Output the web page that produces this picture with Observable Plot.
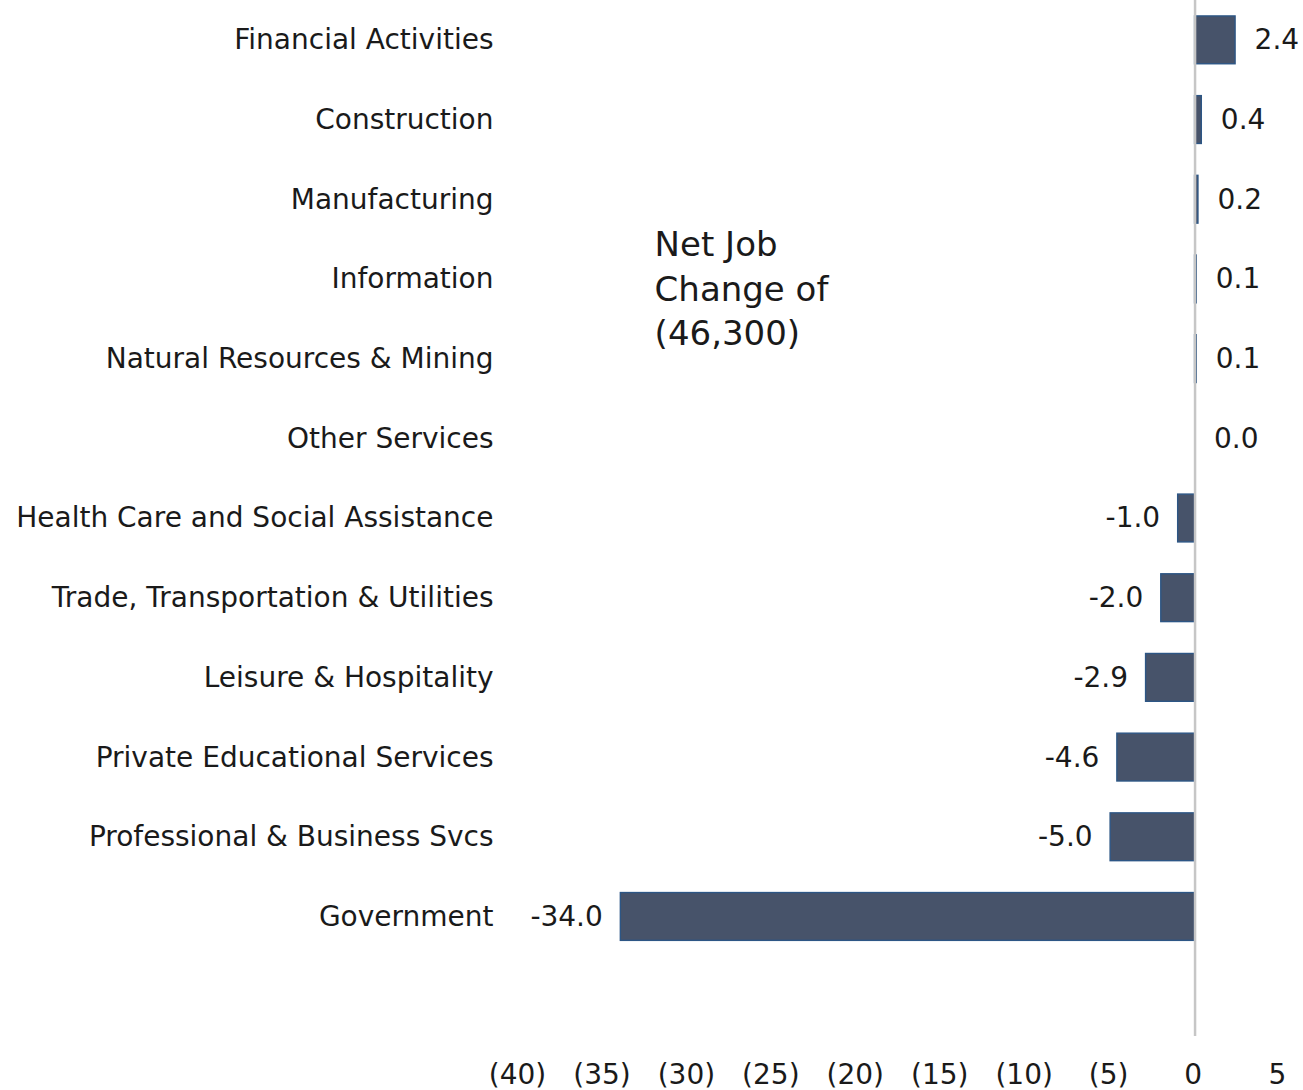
<!DOCTYPE html>
<html>
<head>
<meta charset="utf-8">
<script src="https://cdn.jsdelivr.net/npm/d3@7"></script>
<script src="https://cdn.jsdelivr.net/npm/@observablehq/plot@0.6"></script>
<style>
  html, body { margin: 0; padding: 0; background: #fff; }
  #chart svg { display: block; }
</style>
</head>
<body>
<div id="chart"></div>
<script>
const categories = [
  "Financial Activities",
  "Construction",
  "Manufacturing",
  "Information",
  "Natural Resources & Mining",
  "Other Services",
  "Health Care and Social Assistance",
  "Trade, Transportation & Utilities",
  "Leisure & Hospitality",
  "Private Educational Services",
  "Professional & Business Svcs",
  "Government"
];
const values = [2.4, 0.4, 0.2, 0.1, 0.1, 0.0, -1.0, -2.0, -2.9, -4.6, -5.0, -34.0];
const xTicks = [-40, -35, -30, -25, -20, -15, -10, -5, 0, 5];
const annotationLines = ["Net Job", "Change of", "(46,300)"];

const data = categories.map((c, i) => ({category: c, value: values[i]}));
const pos = data.filter(d => d.value >= 0);
const neg = data.filter(d => d.value < 0);
const blank = " ";

const font = "DejaVu Sans, Verdana, sans-serif";
const fmtX = d => d < 0 ? `(${Math.abs(d)})` : `${d}`;

const chart = Plot.plot({
  width: 1303,
  height: 1090,
  marginLeft: 519,
  marginRight: 24,
  marginTop: 0,
  marginBottom: 54,
  style: {fontFamily: font, fontSize: "28px", color: "#1a1a1a", background: "#fff"},
  x: {domain: [-40, 5], label: null},
  y: {domain: [...categories, blank], paddingInner: 0.4, paddingOuter: 0.2, round: false, label: null},
  marks: [
    Plot.axisX({ticks: xTicks, tickSize: 0, tickPadding: 28, fontSize: 28, dx: -2,
      tickFormat: fmtX, label: null}),
    Plot.axisY({tickSize: 0, tickPadding: 26, fontSize: 28, label: null,
      tickFormat: d => d === blank ? "" : d}),
    Plot.barX(data, {x: "value", y: "category", fill: "#47536a", stroke: "#2d5685", strokeWidth: 1.4}),
    Plot.ruleX([0], {stroke: "#c6c6c6", strokeWidth: 2.5}),
    Plot.text(pos, {
      x: "value", y: "category", text: d => d.value.toFixed(1),
      textAnchor: "start", dx: 19, fontSize: 28, fill: "#1a1a1a"
    }),
    Plot.text(neg, {
      x: "value", y: "category", text: d => d.value.toFixed(1),
      textAnchor: "end", dx: -18, fontSize: 28, fill: "#1a1a1a"
    }),
    Plot.text([{label: annotationLines.join("\n"), x: -32, y: categories[3]}], {
      x: "x", y: "y", text: "label", textAnchor: "start", lineAnchor: "middle",
      fontSize: 34, lineHeight: 1.3, dy: 7, fill: "#1a1a1a"
    })
  ]
});

document.getElementById("chart").appendChild(chart);
</script>
</body>
</html>
